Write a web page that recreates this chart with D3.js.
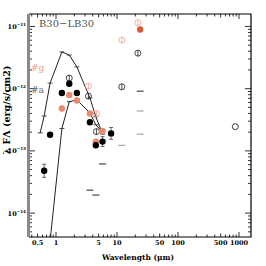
<!DOCTYPE html>
<html>
<head>
<script src="https://cdnjs.cloudflare.com/ajax/libs/d3/7.8.5/d3.min.js"></script>
<style>
  body { margin: 0; background: #fff; }
  svg { display: block; }
  text { font-family: "DejaVu Serif", "Liberation Serif", serif; }
</style>
</head>
<body>
<svg id="chart" width="266" height="266"></svg>
<script>
  // photosphere models (lines with small ticks at each band)
  const upperLam = [0.55, 0.64, 0.8, 1.25, 1.65, 2.2, 3.6, 4.5, 5.8];
  const upperFlux = [1.95e-13, 3.63e-13, 1.23e-12, 3.89e-12, 3.47e-12, 2.24e-12, 7.08e-13, 3.55e-13, 1.86e-13];
  const lowerLam = [0.8, 1.25, 1.65, 2.2, 3.6, 4.5, 5.8];
  const lowerFlux = [3.55e-15, 2.29e-13, 6.17e-13, 6.61e-13, 4.07e-13, 2.63e-13, 2.0e-13];

  // black filled photometry (error in dex)
  const blackLam = [0.64, 0.8, 1.25, 1.65, 2.2, 3.6, 4.5, 5.8, 8.0];
  const blackFlux = [4.79e-14, 1.82e-13, 8.51e-13, 1.20e-12, 8.51e-13, 2.88e-13, 1.23e-13, 1.41e-13, 1.91e-13];
  const blackErr = [0.105, 0.02, 0.02, 0.02, 0.02, 0.02, 0.03, 0.08, 0.095];

  // salmon filled photometry
  const salmonLam = [1.25, 1.65, 2.2, 3.6, 4.5, 5.8];
  const salmonFlux = [4.79e-13, 7.94e-13, 6.46e-13, 3.98e-13, 1.41e-13, 2.09e-13];
  const darkLam = [24];
  const darkFlux = [8.91e-12];

  // open circles (WISE-like bands)
  const openSalmonLam = [3.4, 4.6, 12, 22];
  const openSalmonFlux = [1.10e-12, 3.98e-13, 6.03e-12, 1.15e-11];
  const openBlackLam = [1.65, 3.4, 4.6, 12, 22];
  const openBlackFlux = [1.48e-12, 7.59e-13, 2.04e-13, 1.07e-12, 3.72e-12];
  const submmLam = [870];
  const submmFlux = [2.45e-13];

  // upper limits drawn as short dashes
  const limLam = [3.6, 4.5, 5.8, 12, 24, 24, 24];
  const limFlux = [2.34e-14, 1.95e-14, 6.17e-14, 1.23e-13, 1.86e-13, 4.37e-13, 9.12e-13];
  const limDark = [true, true, true, false, false, false, true];

  const xLabels = [0.5, 1, 5, 10, 50, 100, 500, 1000];
  const yLabels = [-11, -12, -13, -14];

  const mLeft = 29, mRight = 251, mTop = 14, mBottom = 237;
  const svg = d3.select("#chart");

  const x = d3.scaleLog().domain([0.361, 1573]).range([mLeft, mRight]);
  const y = d3.scaleLog().domain([4.13e-15, 1.585e-11]).range([mBottom, mTop]);

  svg.append("clipPath").attr("id", "clip")
    .append("rect").attr("x", mLeft).attr("y", mTop)
    .attr("width", mRight - mLeft).attr("height", mBottom - mTop);

  const plot = svg.append("g").attr("clip-path", "url(#clip)");

  // ---- axes ----
  const xTicks = x.ticks();
  const yTicks = y.ticks();
  const isPow = v => Math.abs(Math.log10(v) - Math.round(Math.log10(v))) < 1e-6;
  const isFive = v => Math.abs(Math.log10(v / 5) - Math.round(Math.log10(v / 5))) < 1e-6;

  function xTickLen(v) { return isPow(v) ? 5 : (isFive(v) ? 3.5 : 2.5); }
  function yTickLen(v) { return isPow(v) ? 6 : 3; }

  const axes = svg.append("g").attr("stroke", "#000").attr("stroke-width", 0.8);
  xTicks.forEach(v => {
    axes.append("line").attr("x1", x(v)).attr("x2", x(v)).attr("y1", mBottom).attr("y2", mBottom - xTickLen(v));
    axes.append("line").attr("x1", x(v)).attr("x2", x(v)).attr("y1", mTop).attr("y2", mTop + xTickLen(v));
  });
  yTicks.forEach(v => {
    axes.append("line").attr("x1", mLeft).attr("x2", mLeft + yTickLen(v)).attr("y1", y(v)).attr("y2", y(v));
    axes.append("line").attr("x1", mRight).attr("x2", mRight - yTickLen(v)).attr("y1", y(v)).attr("y2", y(v));
  });

  svg.append("path")
    .attr("d", `M${mLeft},${mTop}H${mRight}V${mBottom}H${mLeft}`)
    .attr("fill", "none").attr("stroke", "#000").attr("stroke-width", 1.2);
  svg.append("line")
    .attr("x1", mLeft - 0.5).attr("x2", mLeft - 0.5).attr("y1", mTop).attr("y2", mBottom)
    .attr("stroke", "#8a8a8a").attr("stroke-width", 3);

  svg.selectAll(".xl").data(xLabels).join("text")
    .attr("x", d => x(d)).attr("y", 245)
    .attr("text-anchor", "middle").attr("font-size", 6.5).attr("font-weight", "bold")
    .text(d => d);

  const yl = svg.selectAll(".yl").data(yLabels).join("text")
    .attr("x", 26).attr("y", d => y(Math.pow(10, d)) + 2.5)
    .attr("text-anchor", "end").attr("font-weight", "bold");
  yl.append("tspan").attr("font-size", 6.5).text("10");
  yl.append("tspan").attr("font-size", 4.2).attr("dy", -3).text(d => "\u2212" + Math.abs(d));

  svg.append("text")
    .attr("transform", "translate(10,110) rotate(-90)")
    .attr("text-anchor", "middle").attr("font-size", 9.5).attr("font-weight", "bold")
    .text("\u03bb F\u039b (erg/s/cm2)");

  svg.append("text")
    .attr("x", 138).attr("y", 260)
    .attr("text-anchor", "middle").attr("font-size", 7.5).attr("font-weight", "bold")
    .text("Wavelength (\u03bcm)");

  // ---- annotations ----
  svg.append("text").attr("x", 39).attr("y", 27)
    .attr("font-size", 10).attr("fill", "#555").text("B30\u2212LB30");
  svg.append("text").attr("x", 31).attr("y", 71)
    .attr("font-size", 9).attr("fill", "#f0a08e").text("#g");
  svg.append("text").attr("x", 31).attr("y", 93)
    .attr("font-size", 9).attr("fill", "#666").text("#a");

  // ---- model curves ----
  const line = d3.line().x(d => x(d[0])).y(d => y(d[1]));
  function drawModel(lam, flux) {
    const pts = d3.zip(lam, flux);
    plot.append("path").datum(pts).attr("d", line)
      .attr("fill", "none").attr("stroke", "#222").attr("stroke-width", 1);
    plot.selectAll(null).data(pts).join("line")
      .attr("x1", d => x(d[0]) - 2.5).attr("x2", d => x(d[0]) + 2.5)
      .attr("y1", d => y(d[1])).attr("y2", d => y(d[1]))
      .attr("stroke", "#222").attr("stroke-width", 0.8);
  }
  drawModel(upperLam, upperFlux);
  drawModel(lowerLam, lowerFlux);

  // ---- upper limits ----
  plot.selectAll(null).data(d3.zip(limLam, limFlux, limDark)).join("line")
    .attr("x1", d => x(d[0]) - 3.5).attr("x2", d => x(d[0]) + 3.5)
    .attr("y1", d => y(d[1])).attr("y2", d => y(d[1]))
    .attr("stroke", d => d[2] ? "#222" : "#999").attr("stroke-width", 1);

  // ---- open circles ----
  function drawOpen(lam, flux, color, bar) {
    const pts = d3.zip(lam, flux);
    const g = plot.append("g").attr("stroke", color).attr("fill", "none").attr("stroke-width", 0.9);
    g.selectAll("circle").data(pts).join("circle")
      .attr("cx", d => x(d[0])).attr("cy", d => y(d[1])).attr("r", 3);
    if (bar) {
      g.selectAll("line").data(pts).join("line")
        .attr("x1", d => x(d[0])).attr("x2", d => x(d[0]))
        .attr("y1", d => y(d[1]) - 3).attr("y2", d => y(d[1]) + 3);
    }
  }
  drawOpen(openSalmonLam, openSalmonFlux, "#f2a898", true);
  drawOpen(openBlackLam, openBlackFlux, "#333", true);
  drawOpen(submmLam, submmFlux, "#222", false);

  // ---- filled circles ----
  function drawFilled(lam, flux, color) {
    plot.selectAll(null).data(d3.zip(lam, flux)).join("circle")
      .attr("cx", d => x(d[0])).attr("cy", d => y(d[1])).attr("r", 3.2)
      .attr("fill", color);
  }
  drawFilled(salmonLam, salmonFlux, "#e98a6e");
  drawFilled(darkLam, darkFlux, "#cc5c3c");

  const blk = d3.zip(blackLam, blackFlux, blackErr);
  const eb = plot.append("g").attr("stroke", "#444").attr("stroke-width", 0.8);
  blk.filter(d => d[2] > 0.05).forEach(d => {
    const cx = x(d[0]), y1 = y(d[1] * Math.pow(10, d[2])), y2 = y(d[1] / Math.pow(10, d[2]));
    eb.append("line").attr("x1", cx).attr("x2", cx).attr("y1", y1).attr("y2", y2);
    eb.append("line").attr("x1", cx - 2).attr("x2", cx + 2).attr("y1", y1).attr("y2", y1);
    eb.append("line").attr("x1", cx - 2).attr("x2", cx + 2).attr("y1", y2).attr("y2", y2);
  });
  drawFilled(blackLam, blackFlux, "#000");
</script>
</body>
</html>
